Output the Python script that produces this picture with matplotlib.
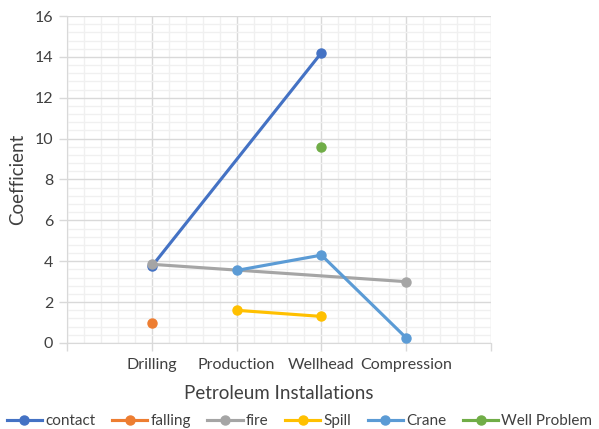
import numpy as np
import matplotlib
matplotlib.use("Agg")
import matplotlib.pyplot as plt
from matplotlib.ticker import MultipleLocator

plt.rcParams['font.family'] = ['Lato', 'DejaVu Sans']

# category axis: one empty slot on each side
categories = ["Drilling", "Production", "Wellhead", "Compression"]
nan = np.nan
contact = [3.75, nan, 14.2, nan]
falling = [1.0, nan, nan, nan]
fire = [3.85, nan, nan, 3.0]
spill = [nan, 1.6, 1.3, nan]
crane = [nan, 3.55, 4.3, 0.25]
well_problem = [nan, nan, 9.6, nan]

series = [
    ("contact", contact, "#4472C4"),
    ("falling", falling, "#ED7D31"),
    ("fire", fire, "#A5A5A5"),
    ("Spill", spill, "#FFC000"),
    ("Crane", crane, "#5B9BD5"),
    ("Well Problem", well_problem, "#70AD47"),
]

fig = plt.figure(figsize=(5.99, 4.29), dpi=100)
ax = fig.add_axes([0.1119, 0.2005, 0.7078, 0.7622])

x = np.arange(1, len(categories) + 1)
for name, vals, col in series:
    v = np.array(vals, dtype=float)
    m = ~np.isnan(v)
    # blanks are skipped, remaining points joined
    ax.plot(x[m], v[m], color=col, lw=2.25, marker="o", markersize=6.5,
            label=name, zorder=3)

ax.set_xlim(0, 5)
ax.set_ylim(0, 16)
ax.set_xticks(np.arange(0, 6))
ax.set_xticklabels([""] + categories + [""])
ax.yaxis.set_major_locator(MultipleLocator(2))
ax.xaxis.set_minor_locator(MultipleLocator(0.2))
ax.yaxis.set_minor_locator(MultipleLocator(0.4))

ax.grid(which="major", color="#D9D9D9", lw=1.0, zorder=1)
ax.grid(which="minor", color="#F0F0F0", lw=1.0, zorder=0)
ax.set_axisbelow(True)
for s in ax.spines.values():
    s.set_color("#D9D9D9")
ax.spines["top"].set_visible(False)
ax.spines["right"].set_visible(False)

ax.tick_params(which="major", color="#D9D9D9", length=6, width=1,
               labelsize=11.5, labelcolor="#404040", pad=4)
ax.tick_params(which="minor", length=0)
ax.tick_params(axis="x", pad=5)

ax.set_ylabel("Coefficient", fontsize=13.5, color="#404040", labelpad=6)
ax.set_xlabel("Petroleum Installations", fontsize=13.5, color="#404040", labelpad=9)

fig.legend(loc="lower center", bbox_to_anchor=(0.5, -0.02), ncol=6,
           frameon=False, fontsize=11, labelcolor="#404040",
           handlelength=2.3, handletextpad=0.2, columnspacing=1.1,
           borderaxespad=0.2)

fig.savefig("out.png", dpi=100)
